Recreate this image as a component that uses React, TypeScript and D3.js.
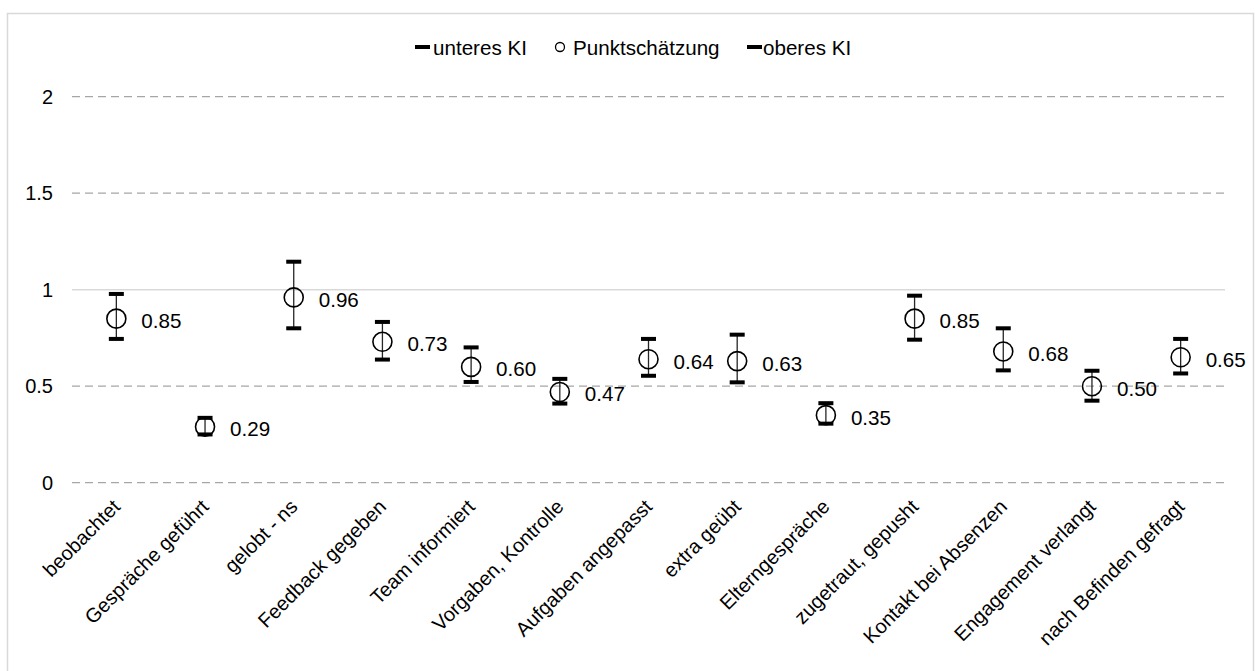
import React from "react";
import * as d3 from "d3";

const categories = [
  "beobachtet",
  "Gespräche geführt",
  "gelobt - ns",
  "Feedback gegeben",
  "Team informiert",
  "Vorgaben, Kontrolle",
  "Aufgaben angepasst",
  "extra geübt",
  "Elterngespräche",
  "zugetraut, gepusht",
  "Kontakt bei Absenzen",
  "Engagement verlangt",
  "nach Befinden gefragt",
];
const pointEstimate = [0.85, 0.29, 0.96, 0.73, 0.6, 0.47, 0.64, 0.63, 0.35, 0.85, 0.68, 0.5, 0.65];
const lowerCI = [0.745, 0.25, 0.8, 0.638, 0.522, 0.41, 0.554, 0.52, 0.306, 0.741, 0.582, 0.425, 0.566];
const upperCI = [0.978, 0.336, 1.145, 0.833, 0.701, 0.538, 0.745, 0.767, 0.412, 0.969, 0.8, 0.58, 0.745];
const yTicks = [0, 0.5, 1, 1.5, 2];
const legendLabels = ["unteres KI", "Punktschätzung", "oberes KI"];

const W = 1255;
const H = 671;
const FONT = "'Liberation Sans', Arial, sans-serif";
const FS = 20;
const LFS = 20.6;

export default function App() {
  const x = d3.scaleBand<string>().domain(categories).range([72, 1225]).padding(0);
  const y = d3.scaleLinear().domain([0, 2]).range([482.7, 96.7]);
  const bw = x.bandwidth();
  const capW = 15;
  const capH = 4;
  const r = 9.5;

  return (
    <svg width={W} height={H} style={{ position: "absolute", left: 0, top: 0, background: "#fff" }} fontFamily={FONT}>
      <rect x={7.5} y={13.5} width={1246} height={680} fill="#fff" stroke="#d9d9d9" strokeWidth={1.5} />
      {yTicks.map((t) => (
        <g key={t}>
          <line
            x1={72}
            x2={1225}
            y1={y(t)}
            y2={y(t)}
            stroke={t === 1 ? "#d9d9d9" : "#a6a6a6"}
            strokeWidth={t === 1 ? 1.5 : 1.3}
            strokeDasharray={t === 1 ? undefined : "8,5"}
          />
          <text x={53} y={y(t)} textAnchor="end" dominantBaseline="central" fontSize={FS} fill="#000">
            {d3.format("")(t)}
          </text>
        </g>
      ))}
      {categories.map((c, i) => {
        const cx = (x(c) as number) + bw / 2;
        return (
          <g key={c}>
            <line x1={cx} x2={cx} y1={y(upperCI[i])} y2={y(lowerCI[i])} stroke="#262626" strokeWidth={1.3} />
            <rect x={cx - capW / 2} y={y(upperCI[i]) - capH / 2} width={capW} height={capH} fill="#000" />
            <rect x={cx - capW / 2} y={y(lowerCI[i]) - capH / 2} width={capW} height={capH} fill="#000" />
            <circle cx={cx} cy={y(pointEstimate[i])} r={r} fill="none" stroke="#000" strokeWidth={1.6} />
            <text x={cx + 25} y={y(pointEstimate[i]) + 2} dominantBaseline="central" fontSize={LFS} fill="#000">
              {d3.format(".2f")(pointEstimate[i])}
            </text>
            <text
              transform={`translate(${cx + 5},${508}) rotate(-45)`}
              textAnchor="end"
              fontSize={FS}
              fill="#000"
            >
              {c}
            </text>
          </g>
        );
      })}
      <g>
        <rect x={415} y={45} width={15} height={4} fill="#000" />
        <text x={433} y={47} dominantBaseline="central" fontSize={LFS}>{legendLabels[0]}</text>
        <circle cx={560} cy={47} r={4.5} fill="none" stroke="#000" strokeWidth={1.3} />
        <text x={573} y={47} dominantBaseline="central" fontSize={LFS}>{legendLabels[1]}</text>
        <rect x={747} y={45} width={15} height={4} fill="#000" />
        <text x={763} y={47} dominantBaseline="central" fontSize={LFS}>{legendLabels[2]}</text>
      </g>
    </svg>
  );
}
